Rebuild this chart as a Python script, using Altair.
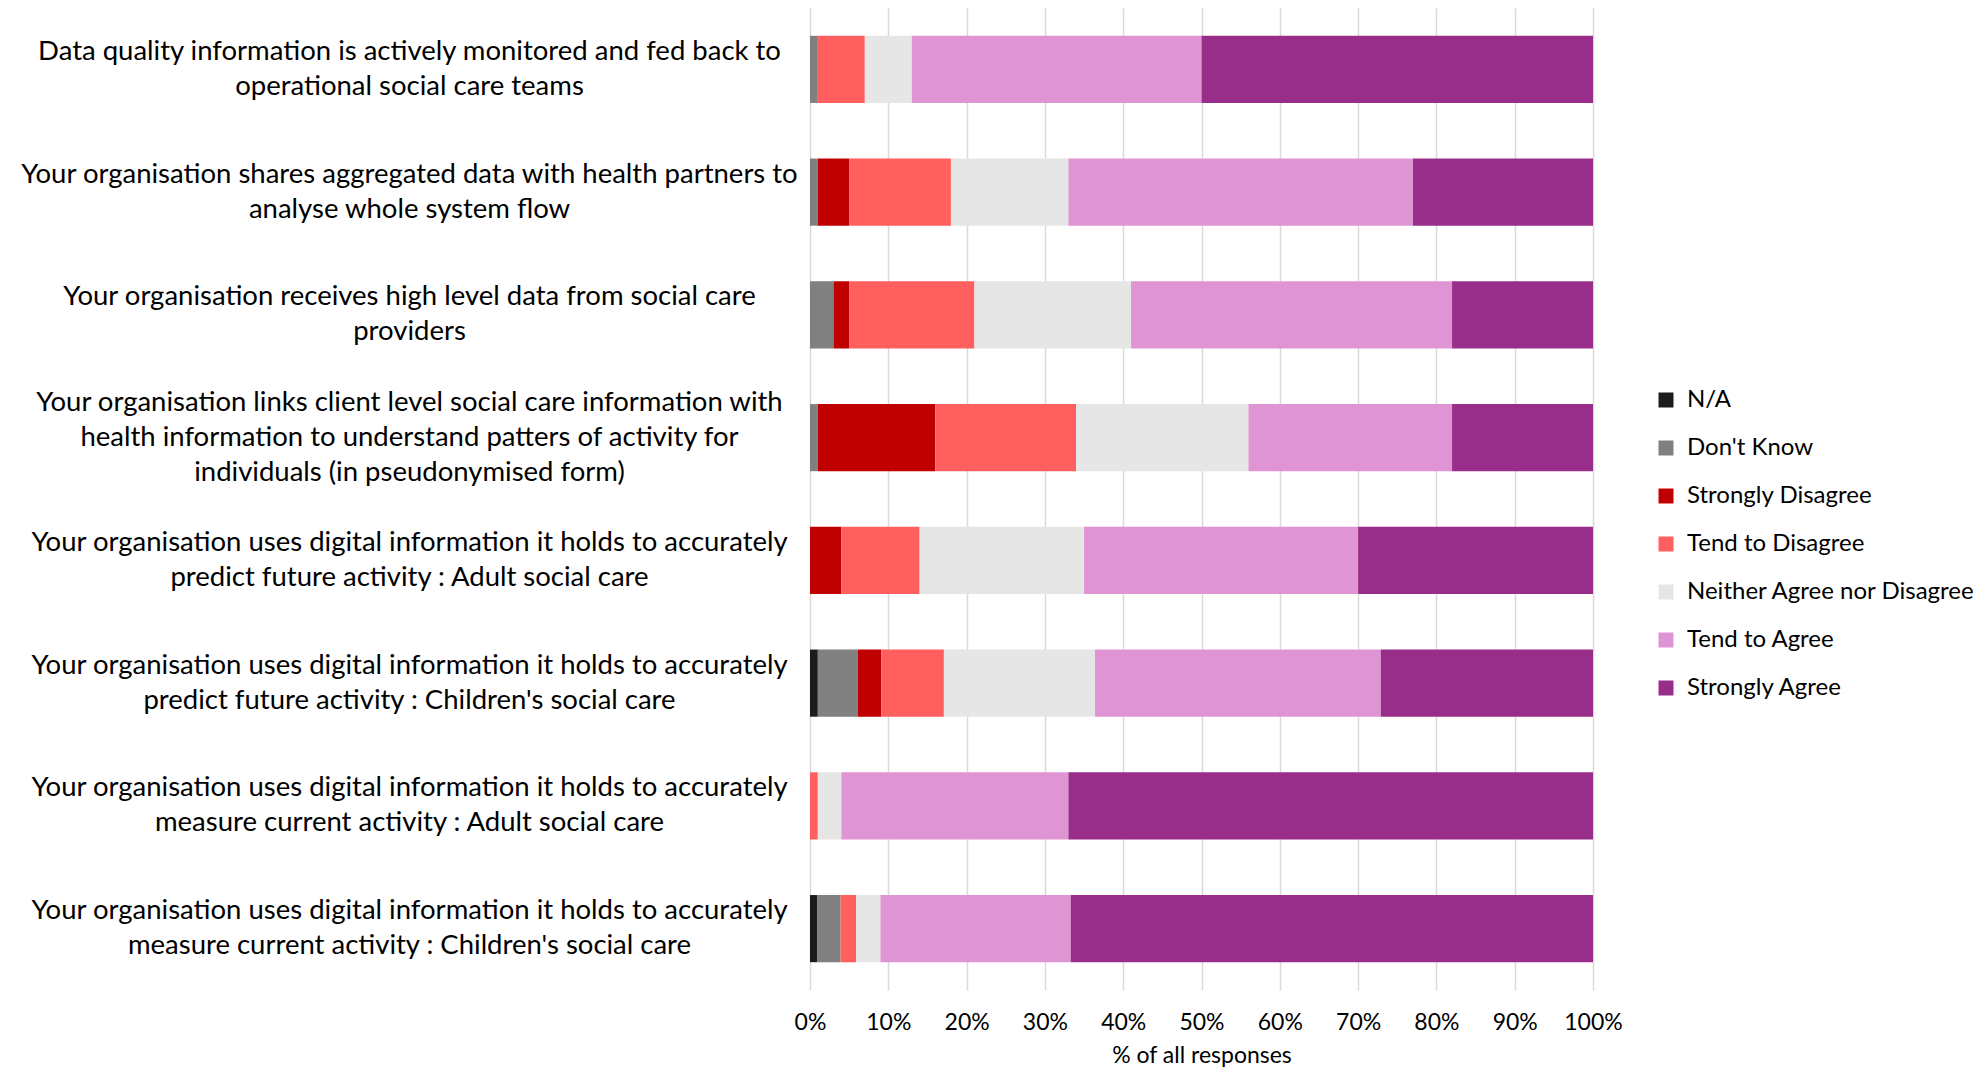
import altair as alt
import pandas as pd

questions = [
    "Data quality information is actively monitored and fed back to\noperational social care teams",
    "Your organisation shares aggregated data with health partners to\nanalyse whole system flow",
    "Your organisation receives high level data from social care\nproviders",
    "Your organisation links client level social care information with\nhealth information to understand patters of activity for\nindividuals (in pseudonymised form)",
    "Your organisation uses digital information it holds to accurately\npredict future activity : Adult social care",
    "Your organisation uses digital information it holds to accurately\npredict future activity : Children's social care",
    "Your organisation uses digital information it holds to accurately\nmeasure current activity : Adult social care",
    "Your organisation uses digital information it holds to accurately\nmeasure current activity : Children's social care",
]

responses = [
    "N/A",
    "Don't Know",
    "Strongly Disagree",
    "Tend to Disagree",
    "Neither Agree nor Disagree",
    "Tend to Agree",
    "Strongly Agree",
]

colors = ["#1c1c1c", "#808080", "#c00000", "#ff5f5f", "#e6e6e6", "#df95d3", "#992e8a"]

# percentage of responses per question, in response order
na_vals       = [0.0, 0.0, 0.0, 0.0, 0.0, 1.0, 0.0, 0.9]
dontknow_vals = [1.0, 1.0, 3.0, 1.0, 0.0, 5.1, 0.0, 3.0]
sdisagree     = [0.0, 4.0, 2.0, 15.0, 4.0, 3.0, 0.0, 0.0]
tdisagree     = [6.0, 13.0, 16.0, 18.0, 10.0, 8.0, 1.0, 2.0]
neither_vals  = [6.0, 15.0, 20.0, 22.0, 21.0, 19.3, 3.0, 3.1]
tagree        = [37.0, 44.0, 41.0, 26.0, 35.0, 36.5, 29.0, 24.3]
sagree        = [50.0, 23.0, 18.0, 18.0, 30.0, 27.1, 67.0, 66.7]

series = [na_vals, dontknow_vals, sdisagree, tdisagree, neither_vals, tagree, sagree]

rows = []
for ri, (resp, vals) in enumerate(zip(responses, series)):
    for q, v in zip(questions, vals):
        rows.append({"question": q, "response": resp, "order": ri, "value": v})
df = pd.DataFrame(rows)

FONT = "Lato"
LINE_H = 35

chart = (
    alt.Chart(df)
    .mark_bar()
    .encode(
        x=alt.X(
            "value:Q",
            stack="normalize",
            scale=alt.Scale(domain=[0, 1], nice=False),
            axis=alt.Axis(
                format=".0%",
                values=[i / 10 for i in range(11)],
                title="% of all responses",
                titleFont=FONT,
                titleFontSize=23,
                titleFontWeight="normal",
                titleColor="#000000",
                titlePadding=10,
                labelFont=FONT,
                labelFontSize=23,
                labelColor="#000000",
                labelPadding=21,
                labelOverlap=False,
                labelBound=False,
                labelFlush=False,
                domain=False,
                ticks=False,
                grid=True,
                gridColor="#d9d9d9",
                gridWidth=1.5,
            ),
        ),
        y=alt.Y(
            "question:N",
            sort=questions,
            scale=alt.Scale(paddingInner=0.453, paddingOuter=0.2265),
            axis=alt.Axis(
                title=None,
                labelExpr="split(datum.label, '\\n')",
                labelFont=FONT,
                labelFontSize=27.5,
                labelColor="#000000",
                labelAlign="center",
                labelBaseline="middle",
                labelLineHeight=LINE_H,
                labelPadding=401,
                labelLimit=900,
                labelOverlap=False,
                labelOffset={
                    "condition": {
                        "test": "length(split(datum.label, '\\n')) > 2",
                        "value": -LINE_H,
                    },
                    "value": -LINE_H / 2,
                },
                domain=False,
                ticks=False,
                grid=False,
            ),
        ),
        color=alt.Color(
            "response:N",
            scale=alt.Scale(domain=responses, range=colors),
            legend=alt.Legend(
                title=None,
                orient="none",
                legendX=844,
                legendY=380,
                symbolType="square",
                symbolSize=225,
                symbolStrokeWidth=0,
                labelFont=FONT,
                labelFontSize=24,
                labelColor="#000000",
                labelOffset=9,
                rowPadding=24,
                padding=0,
                labelLimit=400,
            ),
        ),
        order=alt.Order("order:Q"),
    )
    .properties(
        width=783,
        height=982,
        autosize=alt.AutoSizeParams(type="none"),
        padding={"left": 802, "top": 0, "right": 386, "bottom": 78},
    )
    .configure_view(stroke=None)
)

chart.save("out.html", embed_options={"renderer": "svg", "actions": False})
